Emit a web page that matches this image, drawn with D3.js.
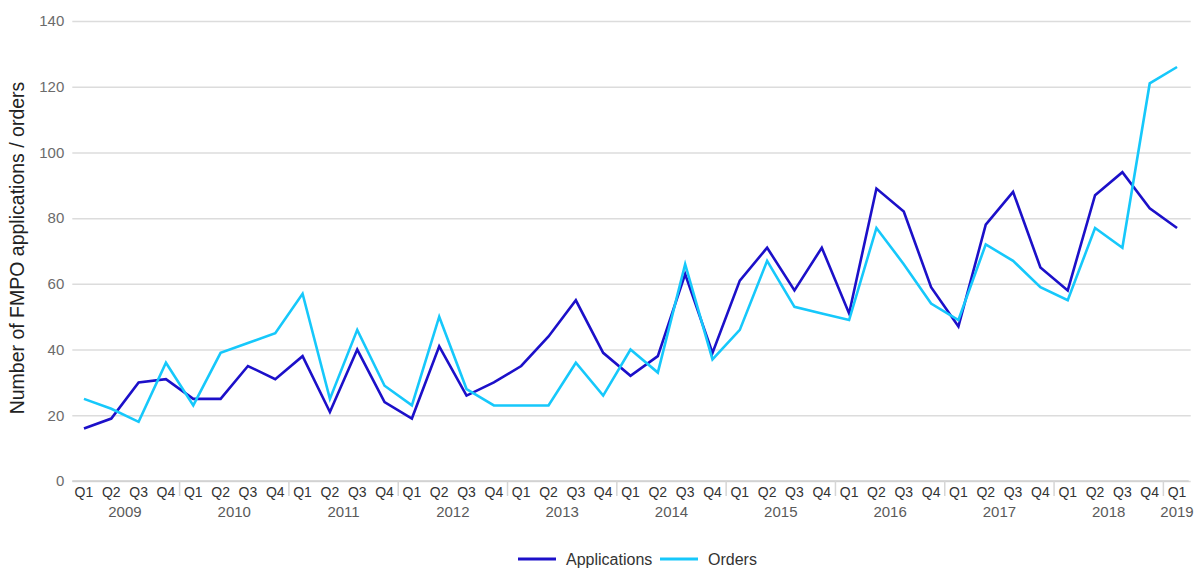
<!DOCTYPE html>
<html>
<head>
<meta charset="utf-8">
<script src="https://cdn.jsdelivr.net/npm/d3@7/dist/d3.min.js"></script>
<style>
  html, body { margin: 0; padding: 0; background: #fff; }
  svg { display: block; font-family: "Liberation Sans", Arial, Helvetica, sans-serif; }
</style>
</head>
<body>
<svg id="chart" width="1200" height="570"></svg>
<script>
// Quarterly FMPO applications and orders, Q1 2009 – Q1 2019
const years = ["2009", "2010", "2011", "2012", "2013", "2014", "2015", "2016", "2017", "2018", "2019"];
const quarters = ["Q1", "Q2", "Q3", "Q4"];
const applications = [
  16, 19, 30, 31,
  25, 25, 35, 31,
  38, 21, 40, 24,
  19, 41, 26, 30,
  35, 44, 55, 39,
  32, 38, 63, 39,
  61, 71, 58, 71,
  51, 89, 82, 59,
  47, 78, 88, 65,
  58, 87, 94, 83,
  77
];
const orders = [
  25, 22, 18, 36,
  23, 39, 42, 45,
  57, 25, 46, 29,
  23, 50, 28, 23,
  23, 23, 36, 26,
  40, 33, 66, 37,
  46, 67, 53, 51,
  49, 77, 66, 54,
  49, 72, 67, 59,
  55, 77, 71, 121,
  126
];
const yTicks = [0, 20, 40, 60, 80, 100, 120, 140];
const seriesNames = ["Applications", "Orders"];
const seriesColors = ["#1c10c9", "#16c8fb"];

// one period per data point: year + quarter
const periods = applications.map((_, i) => ({
  key: i,
  year: years[Math.floor(i / 4)],
  quarter: quarters[i % 4]
}));

const svg = d3.select("#chart");
const margin = { left: 70.3, right: 9.3, top: 21, bottom: 89 };
const W = 1200, H = 570;

const x = d3.scaleBand()
  .domain(periods.map(p => p.key))
  .range([margin.left, W - margin.right])
  .padding(0);
const cx = i => x(i) + x.bandwidth() / 2;

const y = d3.scaleLinear()
  .domain([0, 140])
  .range([H - margin.bottom, margin.top]);

// horizontal gridlines + y tick labels
const yAxis = d3.axisLeft(y).tickValues(yTicks).tickSize(-(W - margin.left - margin.right - 2)).tickPadding(8);
const gy = svg.append("g")
  .attr("transform", `translate(${margin.left + 2},0)`)
  .call(yAxis);
gy.select(".domain").remove();
gy.selectAll(".tick line").attr("stroke", "#dcdcdc").attr("stroke-width", 1.5);
gy.selectAll(".tick text").attr("fill", "#6b6b6b").attr("font-size", 15).attr("font-family", "Liberation Sans, Arial, sans-serif");

// x baseline
svg.append("line")
  .attr("x1", margin.left + 2).attr("x2", W - margin.right - 2)
  .attr("y1", y(0)).attr("y2", y(0))
  .attr("stroke", "#cfcfcf").attr("stroke-width", 1.5);

// quarter labels
const xAxis = d3.axisBottom(x).tickSize(0).tickPadding(6).tickFormat(i => periods[i].quarter);
const gx = svg.append("g")
  .attr("transform", `translate(0,${y(0)})`)
  .call(xAxis);
gx.select(".domain").remove();
gx.selectAll(".tick text").attr("fill", "#333").attr("font-size", 14).attr("font-family", "Liberation Sans, Arial, sans-serif");

// year group separators
const boundaries = d3.range(4, periods.length, 4);
svg.append("g").selectAll("line")
  .data(boundaries)
  .join("line")
  .attr("x1", i => x(i)).attr("x2", i => x(i))
  .attr("y1", y(0)).attr("y2", y(0) + 15)
  .attr("stroke", "#d6d6d6").attr("stroke-width", 1.5);

// year labels centred under their quarters
const yearGroups = years.map(yr => {
  const idx = periods.filter(p => p.year === yr).map(p => p.key);
  return { year: yr, mid: (cx(idx[0]) + cx(idx[idx.length - 1])) / 2 };
});
svg.append("g").selectAll("text")
  .data(yearGroups)
  .join("text")
  .attr("x", d => d.mid)
  .attr("y", y(0) + 36)
  .attr("text-anchor", "middle")
  .attr("fill", "#5a5a5a")
  .attr("font-size", 15)
  .text(d => d.year);

// y axis title
svg.append("text")
  .attr("transform", `translate(24,248) rotate(-90)`)
  .attr("text-anchor", "middle")
  .attr("fill", "#222")
  .attr("font-size", 19.5)
  .text("Number of FMPO applications / orders");

// series lines
const line = d3.line().x((d, i) => cx(i)).y(d => y(d));
[applications, orders].forEach((vals, s) => {
  svg.append("path")
    .datum(vals)
    .attr("fill", "none")
    .attr("stroke", seriesColors[s])
    .attr("stroke-width", 2.6)
    .attr("stroke-linejoin", "miter")
    .attr("d", line);
});

// legend
const legend = svg.append("g").attr("transform", "translate(0,559)");
const legendItems = [
  { name: seriesNames[0], color: seriesColors[0], x: 518 },
  { name: seriesNames[1], color: seriesColors[1], x: 660 }
];
legendItems.forEach(it => {
  legend.append("line")
    .attr("x1", it.x).attr("x2", it.x + 38)
    .attr("y1", 0).attr("y2", 0)
    .attr("stroke", it.color).attr("stroke-width", 3);
  legend.append("text")
    .attr("x", it.x + 48).attr("y", 6)
    .attr("fill", "#333").attr("font-size", 16)
    .text(it.name);
});
</script>
</body>
</html>
